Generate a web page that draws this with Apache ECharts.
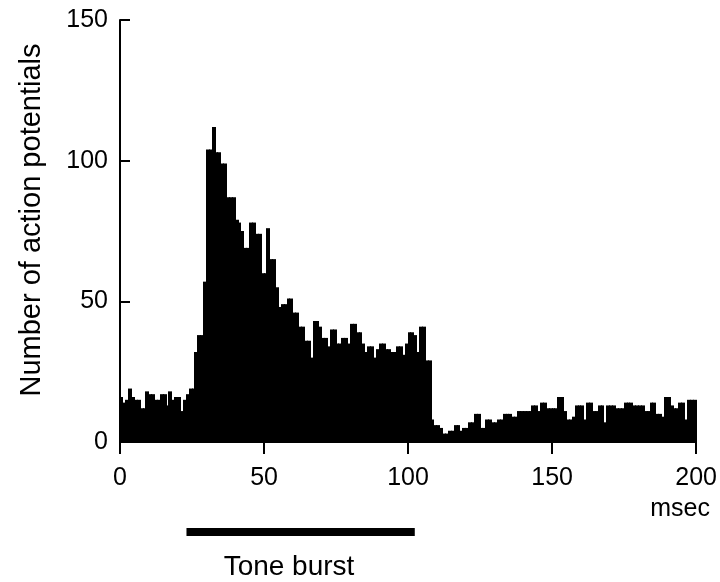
<!DOCTYPE html>
<html>
<head>
<meta charset="utf-8">
<title>Peristimulus time histogram</title>
<script src="https://cdn.jsdelivr.net/npm/echarts@6/dist/echarts.min.js"></script>
<style>
  html, body { margin: 0; padding: 0; background: #fff; }
  #chart { width: 720px; height: 582px; }
</style>
</head>
<body>
<div id="chart"></div>
<script>
// Spike counts per 1-ms bin, 0–199 ms after trial start
const binWidth = 1;
const binStarts = Array.from({ length: 200 }, (_, i) => i);
const counts = [
  16, 14, 15, 19, 16, 15, 15, 12, 12, 18,
  17, 17, 15, 15, 17, 17, 13, 18, 15, 16,
  16, 11, 15, 17, 19, 19, 32, 38, 38, 57,
  104, 104, 112, 103, 103, 99, 99, 87, 87, 87,
  79, 78, 75, 69, 69, 78, 78, 74, 74, 60,
  60, 76, 65, 65, 55, 48, 49, 49, 51, 51,
  46, 46, 41, 41, 36, 36, 30, 43, 43, 41,
  37, 37, 34, 40, 40, 35, 35, 37, 37, 35,
  42, 42, 39, 39, 35, 32, 34, 34, 30, 33,
  35, 35, 33, 33, 32, 32, 34, 34, 31, 35,
  39, 39, 38, 32, 41, 41, 29, 29, 8, 6,
  6, 5, 3, 3, 4, 4, 6, 6, 4, 5,
  5, 7, 7, 10, 10, 5, 5, 8, 8, 7,
  7, 8, 8, 10, 10, 10, 9, 9, 11, 11,
  11, 11, 11, 13, 13, 11, 14, 14, 12, 12,
  12, 12, 16, 16, 11, 8, 8, 9, 13, 13,
  13, 8, 14, 14, 11, 11, 13, 13, 7, 13,
  13, 13, 12, 12, 12, 14, 14, 14, 13, 13,
  13, 13, 11, 11, 14, 14, 10, 10, 9, 16,
  16, 13, 12, 12, 14, 14, 8, 15, 15, 15
];
// Stimulus window (ms)
const toneBurst = [23, 102];
const xTicks = { min: 0, max: 200, step: 50 };
const yTicks = { min: 0, max: 150, step: 50 };

const FONT = '"Liberation Sans", Arial, Helvetica, sans-serif';
const INK = '#000';

const chart = echarts.init(document.getElementById('chart'), null, { renderer: 'canvas' });

const histData = binStarts.map((t, i) => [t, counts[i]]);

chart.setOption({
  animation: false,
  backgroundColor: '#fff',
  grid: [
    { left: 120, right: 22, top: 20, bottom: 140 },
    { left: 120, right: 22, top: 528, height: 8 }
  ],
  xAxis: [
    {
      type: 'value', gridIndex: 0,
      min: xTicks.min, max: xTicks.max, interval: xTicks.step,
      axisLine: { show: true, onZero: false, lineStyle: { color: INK, width: 2 } },
      axisTick: { show: true, inside: false, length: 12, lineStyle: { color: INK, width: 2 } },
      axisLabel: { color: INK, fontFamily: FONT, fontSize: 25, margin: 24 },
      splitLine: { show: false }
    },
    {
      type: 'value', gridIndex: 1, min: xTicks.min, max: xTicks.max, show: false
    }
  ],
  yAxis: [
    {
      type: 'value', gridIndex: 0,
      min: yTicks.min, max: yTicks.max, interval: yTicks.step,
      axisLine: { show: true, lineStyle: { color: INK, width: 2 } },
      axisTick: { show: true, inside: true, length: 10, lineStyle: { color: INK, width: 2 } },
      axisLabel: { color: INK, fontFamily: FONT, fontSize: 25, margin: 12 },
      splitLine: { show: false }
    },
    { type: 'value', gridIndex: 1, min: 0, max: 1, show: false }
  ],
  series: [
    {
      type: 'custom',
      name: 'spikes',
      xAxisIndex: 0, yAxisIndex: 0,
      data: histData,
      renderItem: function (params, api) {
        const t = api.value(0);
        const v = api.value(1);
        const base = api.coord([t, 0]);
        const top = api.coord([t + binWidth, v]);
        // snap to whole pixels so neighbouring bins share edges without hairline gaps
        const x0 = Math.floor(base[0]);
        const x1 = Math.ceil(top[0]);
        return {
          type: 'rect',
          shape: { x: x0, y: top[1], width: x1 - x0, height: base[1] - top[1] },
          style: { fill: INK }
        };
      }
    },
    {
      type: 'custom',
      name: 'tone',
      xAxisIndex: 1, yAxisIndex: 1,
      data: [[toneBurst[0], toneBurst[1]]],
      renderItem: function (params, api) {
        const a = api.coord([api.value(0), 1]);
        const b = api.coord([api.value(1), 0]);
        return {
          type: 'rect',
          shape: { x: a[0], y: a[1], width: b[0] - a[0], height: b[1] - a[1] },
          style: { fill: INK }
        };
      }
    }
  ],
  graphic: [
    {
      type: 'text', x: 32, y: 220, rotation: Math.PI / 2,
      style: {
        text: 'Number of action potentials', fill: INK, font: '29px ' + FONT,
        align: 'center', verticalAlign: 'middle'
      }
    },
    {
      type: 'text', x: 710, y: 509,
      style: { text: 'msec', fill: INK, font: '25px ' + FONT, align: 'right', verticalAlign: 'middle' }
    },
    {
      type: 'text', x: 289, y: 567,
      style: { text: 'Tone burst', fill: INK, font: '28px ' + FONT, align: 'center', verticalAlign: 'middle' }
    }
  ]
});
</script>
</body>
</html>
